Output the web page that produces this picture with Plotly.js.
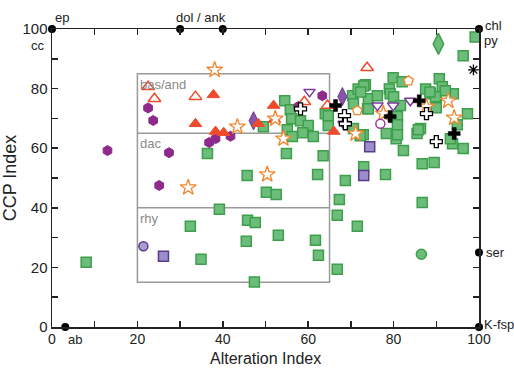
<!DOCTYPE html>
<html><head><meta charset="utf-8">
<script src="https://cdn.plot.ly/plotly-3.0.1.min.js"></script>
<style>body{margin:0;background:#fff}#c{width:514px;height:368px}</style>
</head><body><div id="c"></div>
<script>
// ---- data ----
const greenSqX = [8.0,32.4,34.9,39.2,45.8,47.6,45.5,47.4,45.7,36.4,50.2,52.5,53.0,61.7,62.4,62.2,66.8,66.8,67.3,68.7,71.5,78.1,86.7,54.9,63.5,82.3,86.7,89.5,73.0,93.8,96.3,80.6,
  54.5,55.8,56.1,58.2,60.0,55.1,58.7,56.3,61.2,49.5,64.0,64.7,70.6,70.4,71.7,64.7,73.4,74.1,76.2,73.9,72.9,79.0,79.9,82.0,79.2,80.0,81.6,80.9,80.9,80.9,78.3,85.5,86.3,87.5,88.6,90.7,91.4,90.0,94.0,97.3,94.9,93.3,96.3,99.1,73.0,72.3,85.8,92.1,90.0,70.6,74.1,72.2,89.8,88.5];
const greenSqY = [21.7,33.8,22.7,39.5,35.8,35.1,28.8,15.1,50.8,58.2,45.2,44.5,30.8,29.1,24.1,51.2,37.5,19.4,42.8,49.2,33.8,51.2,41.8,58.2,57.5,59.2,54.8,55.2,53.8,61.5,59.9,63.2,
  75.9,72.9,69.9,69.2,67.6,66.2,65.2,63.9,63.9,67.2,71.6,67.6,66.6,77.6,79.9,70.9,81.3,76.6,77.6,73.2,64.5,79.9,83.6,82.3,78.3,77.3,74.3,70.6,67.9,64.5,64.9,64.9,66.6,79.9,78.3,83.3,80.6,76.6,78.3,71.6,67.9,63.2,91.0,97.3,80.9,78.9,66.2,79.3,73.6,74.9,73.2,64.2,77.3,78.9];
const greenCircX = [86.5], greenCircY = [24.4];
const greenDiaX = [90.5], greenDiaY = [95.0];
const hexX = [13.0,22.5,23.7,27.4,36.8,38.3,41.8,25.1,57.7,63.3];
const hexY = [59.2,73.5,69.3,58.5,61.9,63.2,64.0,47.5,74.0,77.6];
const purpDiaX = [47.2,68.0], purpDiaY = [69.2,77.3];
const redTriX = [37.8,33.6,38.3,40.2,48.3,51.9,52.1,66.0];
const redTriY = [77.9,68.2,65.6,65.2,68.2,74.3,69.6,65.6];
const redOpenTriX = [22.5,24.0,33.6,59.1,64.5,73.8];
const redOpenTriY = [80.6,76.6,77.3,75.6,74.3,87.0];
const starX = [38.1,43.4,31.9,54.2,50.4,52.3,87.7,92.8,94.2,77.6,71.1];
const starY = [86.3,67.2,46.8,63.2,51.2,69.9,73.9,75.9,70.2,71.6,64.9];
const pentX = [83.5,71.5], pentY = [82.6,72.6];
const invTriX = [60.3,76.2,79.9,83.9,68.3], invTriY = [78.9,74.3,74.3,75.9,68.2];
const openCircX = [76.9], openCircY = [68.2];
const lavCircX = [21.4], lavCircY = [27.1];
const lavSqX = [26.1,74.4,73.0], lavSqY = [23.7,60.5,50.8];
const blackCrossX = [86.0,79.2,94.2,66.4], blackCrossY = [75.9,70.6,64.9,74.3];
const openCrossX = [68.5,68.7,58.2,87.7,90.0], openCrossY = [70.9,68.2,73.2,71.6,62.2];
const astX = [98.7], astY = [86.3];
const endX = [0,30,40,100,100,100,3.1], endY = [100,100,100,100,25,0,0];
const xTicks = [0,10,20,30,40,50,60,70,80,90,100];
const xTickText = ['0','','20','','40','','60','','80','','100'];
const yTicks = [0,10,20,30,40,50,60,70,80,90,100];
const yTickText = ['0','','20','','40','','60','','80','','100'];
const fieldBounds = {x0:20,x1:65,yBot:15,yRhy:40,yDac:65,yTop:85};

function tr(x,y,symbol,color,lineColor,size,lw){
  return {x:x,y:y,type:'scatter',mode:'markers',cliponaxis:false,hoverinfo:'skip',
    marker:{symbol:symbol,color:color,size:size,line:{color:lineColor,width:lw}}};
}
const G='#6cbd79', GL='#3d9f4c';
const data = [
  tr(greenSqX,greenSqY,'square',G,GL,10,1.5),
  tr(greenCircX,greenCircY,'circle',G,GL,10,1.5),
  tr(greenDiaX,greenDiaY,'diamond-tall',G,GL,15,1.5),
  tr(lavSqX,lavSqY,'square','#9b8fcb','#5b3a8e',10,1.5),
  tr(lavCircX,lavCircY,'circle','#a99dd2','#5b3a8e',9,1.5),
  tr(hexX,hexY,'hexagon','#8e2a8c','#8e2a8c',10,1),
  tr(purpDiaX,purpDiaY,'diamond-tall','#8a55a8','#6a3a8c',13,1),
  tr(redTriX,redTriY,'triangle-up','#ee4a2c','#ee4a2c',11,1),
  tr(redOpenTriX,redOpenTriY,'triangle-up','#ffffff','#ee4a2c',11,1.5),
  tr(starX,starY,'star','#ffffff','#f2862c',12,1.3),
  tr(pentX,pentY,'pentagon','#ffffff','#f2862c',10,1.3),
  tr(invTriX,invTriY,'triangle-down','#ffffff','#7a3a9a',10,1.5),
  tr(openCircX,openCircY,'circle','#ffffff','#a03aa0',9,1.5),
  tr(blackCrossX,blackCrossY,'cross','#000000','#000000',10,0.5),
  tr(openCrossX,openCrossY,'cross','#ffffff','#000000',10,1.3),
  tr(astX,astY,'asterisk-open','#000','#000',9,1.3),
  tr(endX,endY,'circle','#000000','#000000',8,0)
];
const b=fieldBounds, gray='#9a9a9a';
const shapes = [
  {type:'rect',xref:'x',yref:'y',x0:b.x0,x1:b.x1,y0:b.yBot,y1:b.yTop,line:{color:gray,width:1.5},layer:'below'},
  {type:'line',xref:'x',yref:'y',x0:b.x0,x1:b.x1,y0:b.yRhy,y1:b.yRhy,line:{color:gray,width:1.5},layer:'below'},
  {type:'line',xref:'x',yref:'y',x0:b.x0,x1:b.x1,y0:b.yDac,y1:b.yDac,line:{color:gray,width:1.5},layer:'below'}
];
const FAM='Liberation Sans, Arial, sans-serif';
const lf={family:FAM,size:13,color:'#222'};
function ann(x,y,t,xa,ya,xs,ys,font){return {x:x,y:y,xref:'x',yref:'y',text:t,showarrow:false,xanchor:xa,yanchor:ya,xshift:xs,yshift:ys,font:font||lf};}
const gf={family:FAM,size:13,color:'#8a8a8a'};
const annotations = [
  ann(0,100,'ep','left','bottom',1,2),
  ann(0,100,'cc','right','top',-5,-7),
  ann(35,100,'dol / ank','center','bottom',0,2),
  ann(100,100,'chl','left','middle',4,4),
  ann(100,100,'py','left','top',3,-2),
  ann(100,25,'ser','left','middle',5,0),
  ann(100,0,'K-fsp','left','middle',3,3),
  ann(3.1,0,'ab','left','top',1,-3),
  ann(b.x0,b.yTop,'bas/and','left','top',1,-1,gf),
  ann(b.x0,b.yDac,'dac','left','top',1,-1,gf),
  ann(b.x0,b.yRhy,'rhy','left','top',1,-1,gf),
  {x:0.5,y:0,xref:'paper',yref:'paper',text:'Alteration Index',showarrow:false,xanchor:'center',yanchor:'bottom',yshift:-42,
    font:{family:FAM,size:16,color:'#222'}}
];
const axBase = {range:[0,100],showgrid:false,zeroline:false,showline:true,linecolor:'#222',linewidth:1.5,
  mirror:'ticks',ticks:'inside',ticklen:6,tickwidth:1.5,tickcolor:'#222',
  tickfont:{family:FAM,size:15,color:'#222'}};
const layout = {
  width:514,height:368,margin:{l:52,r:35,t:29,b:41},
  paper_bgcolor:'#ffffff',plot_bgcolor:'#ffffff',showlegend:false,
  xaxis:Object.assign({},axBase,{tickmode:'array',tickvals:xTicks,ticktext:xTickText,ticklabelstandoff:-1,automargin:false,
    tickfont:{family:FAM,size:14,color:'#222'}}),
  yaxis:Object.assign({},axBase,{tickmode:'array',tickvals:yTicks,ticktext:yTickText,automargin:false,
    title:{text:'CCP Index',standoff:2,font:{family:FAM,size:18,color:'#222'}}}),
  shapes:shapes,annotations:annotations
};
Plotly.newPlot('c',data,layout,{displayModeBar:false,staticPlot:true});
</script></body></html>
